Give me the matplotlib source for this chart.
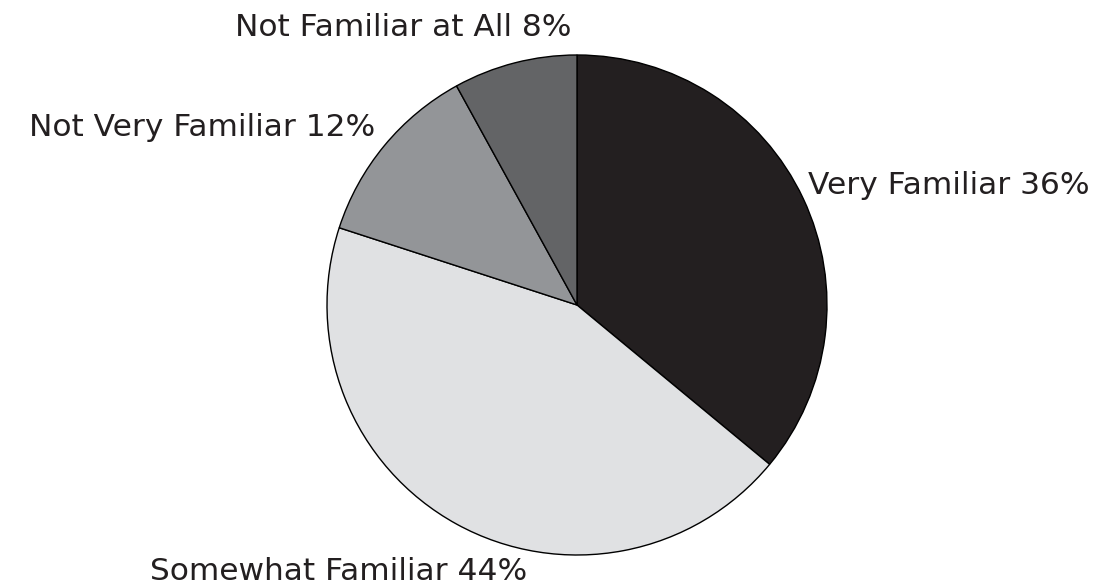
import matplotlib
matplotlib.use("Agg")
import matplotlib.pyplot as plt

# slices go clockwise from 12 o'clock
labels = ["Very Familiar", "Somewhat Familiar", "Not Very Familiar", "Not Familiar at All"]
shares = [36, 44, 12, 8]
colors = ["#231f20", "#e0e1e3", "#939598", "#636466"]

# label anchors in pie units (radius = 1) and alignment
label_pos = [(0.924, 0.48, "left"), (-1.708, -1.064, "left"),
             (-0.808, 0.708, "right"), (-0.02, 1.108, "right")]

plt.rcParams["font.family"] = ["DejaVu Sans"]

fig = plt.figure(figsize=(11.11, 5.84), dpi=100)
ax = fig.add_axes([0, 0, 1, 1])
ax.pie(shares, colors=colors, startangle=90, counterclock=False, radius=1,
       wedgeprops=dict(edgecolor="black", linewidth=1))
ax.set_xlim(-577 / 250, (1111 - 577) / 250)
ax.set_ylim(-(584 - 305) / 250, 305 / 250)
ax.set_aspect("equal")
ax.axis("off")

for name, val, (x, y, ha) in zip(labels, shares, label_pos):
    ax.text(x, y, f"{name} {val}%", ha=ha, va="center", fontsize=22.5, color="#231f20")

fig.savefig("out.png", dpi=100)
